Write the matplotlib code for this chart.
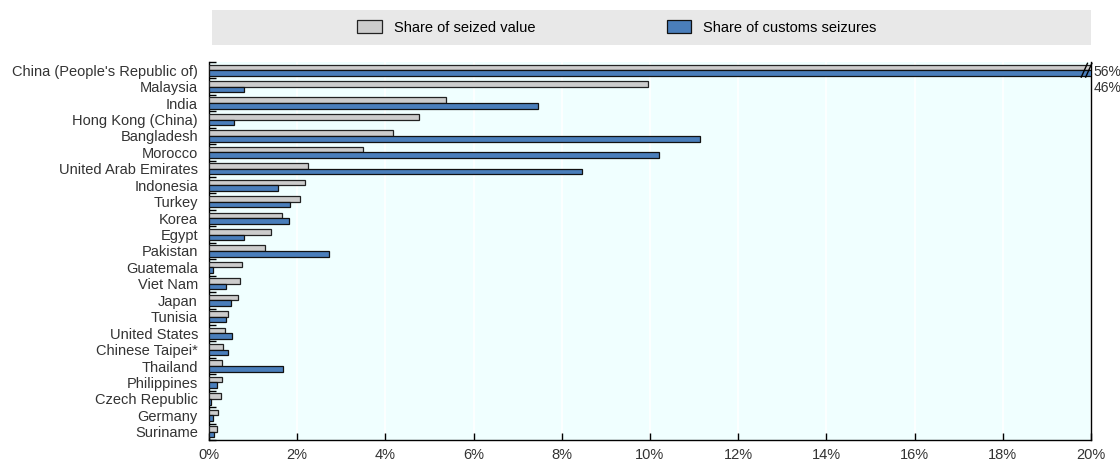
import matplotlib
matplotlib.use("Agg")
import matplotlib.pyplot as plt
import numpy as np
from matplotlib.patches import Rectangle, Patch
from matplotlib.ticker import FuncFormatter, MultipleLocator

countries = ["China (People's Republic of)", "Malaysia", "India", "Hong Kong (China)",
             "Bangladesh", "Morocco", "United Arab Emirates", "Indonesia", "Turkey",
             "Korea", "Egypt", "Pakistan", "Guatemala", "Viet Nam", "Japan", "Tunisia",
             "United States", "Chinese Taipei*", "Thailand", "Philippines",
             "Czech Republic", "Germany", "Suriname"]
seized_value = [56.0, 9.95, 5.37, 4.76, 4.17, 3.50, 2.25, 2.17, 2.07, 1.65, 1.41, 1.27,
                0.75, 0.71, 0.65, 0.44, 0.36, 0.32, 0.30, 0.29, 0.28, 0.21, 0.18]
customs_seizures = [46.0, 0.80, 7.46, 0.56, 11.13, 10.20, 8.46, 1.57, 1.84, 1.81, 0.79,
                    2.73, 0.09, 0.39, 0.49, 0.39, 0.53, 0.42, 1.68, 0.18, 0.05, 0.09, 0.12]
xticks = [0, 2, 4, 6, 8, 10, 12, 14, 16, 18, 20]

plt.rcParams['font.family'] = ['Liberation Sans Narrow', 'Liberation Sans', 'DejaVu Sans']

fig = plt.figure(figsize=(11.2, 4.7), dpi=100)
ax = fig.add_axes([209/1120, 1 - 440/470, (1091-209)/1120, (440-62)/470])
ax.set_facecolor('#f0ffff')

n = len(countries)
y = np.arange(n)
h = 0.34
grey = '#cccccc'
blue = '#4a7ebb'
ax.barh(y - h/2, seized_value, height=h, color=grey, edgecolor='#222222', linewidth=0.9, zorder=3)
ax.barh(y + h/2, customs_seizures, height=h, color=blue, edgecolor='#111111', linewidth=0.9, zorder=3)

ax.set_xlim(0, 20)
ax.set_ylim(n - 0.5, -0.5)
ax.set_xticks(xticks)
ax.xaxis.set_major_formatter(FuncFormatter(lambda v, p: f"{v:.0f}%"))
ax.set_yticks(y)
ax.set_yticklabels(countries)
ax.yaxis.set_minor_locator(MultipleLocator(1, offset=0.5))
ax.tick_params(axis='y', which='major', length=0, pad=8, labelsize=10.5, labelcolor='#333333')
ax.tick_params(axis='y', which='minor', direction='in', length=5, width=1, color='black')
ax.tick_params(axis='x', which='major', direction='in', length=5, width=1, labelsize=10.5,
               labelcolor='#333333', pad=6)
ax.grid(axis='x', color='white', linewidth=1.2, zorder=0)
ax.set_axisbelow(True)
ax.spines['top'].set_visible(False)
for s in ['left', 'bottom', 'right']:
    ax.spines[s].set_color('black')
    ax.spines[s].set_linewidth(1)

# break marks and labels for China
ax.plot([19.78, 19.92], [0.42, -0.42], color='black', lw=1, zorder=5, clip_on=False)
ax.plot([19.88, 20.02], [0.42, -0.42], color='black', lw=1, zorder=5, clip_on=False)
ax.text(20.05, 0.13, f"{seized_value[0]:.0f}%", va='center', ha='left', fontsize=10, color='#333333', clip_on=False)
ax.text(20.05, 1.1, f"{customs_seizures[0]:.0f}%", va='center', ha='left', fontsize=10, color='#333333', clip_on=False)

# legend box
fig.patches.append(Rectangle((212/1120, 1 - 45/470), (1091-212)/1120, 35/470,
                             transform=fig.transFigure, facecolor='#e8e8e8', edgecolor='none', zorder=0))
handles = [Patch(facecolor=grey, edgecolor='#222222', linewidth=0.9, label='Share of seized value'),
           Patch(facecolor=blue, edgecolor='#111111', linewidth=0.9, label='Share of customs seizures')]
fig.legend(handles=handles, loc='center', bbox_to_anchor=(617/1120, 1 - 27.5/470), ncol=2,
           frameon=False, fontsize=10.5, columnspacing=9, handlelength=1.7, handleheight=0.9,
           handletextpad=0.8)

fig.savefig('out.png', dpi=100)
